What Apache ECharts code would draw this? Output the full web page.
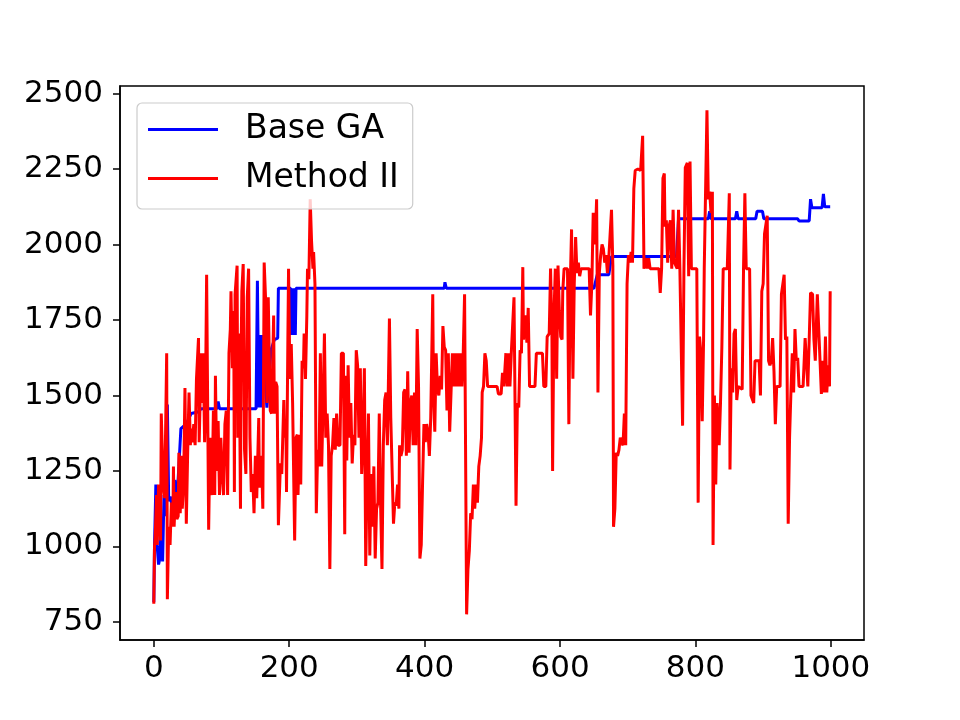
<!DOCTYPE html>
<html>
<head>
<meta charset="utf-8">
<script src="https://cdn.jsdelivr.net/npm/echarts@6/dist/echarts.min.js"></script>
<style>
  html, body { margin: 0; padding: 0; background: #fff; }
  #chart { width: 960px; height: 720px; }
</style>
</head>
<body>
<div id="chart"></div>
<script>
// Tick values
const xTicks = [0, 200, 400, 600, 800, 1000];
const yTicks = [750, 1000, 1250, 1500, 1750, 2000, 2250, 2500];

// Base GA: [generation, fitness]
const baseGa = [
  [0, 815], [1, 1000], [3, 1205], [5, 1000], [7, 940], [9, 960], [11, 1080], [13, 950],
  [15, 1170], [18, 1100], [20, 1470], [22, 1150], [25, 1165], [28, 1100], [31, 1220],
  [34, 1150], [37, 1265], [40, 1390], [45, 1400], [50, 1415], [55, 1440], [65, 1445],
  [70, 1456], [93, 1456], [95, 1480], [97, 1456], [151, 1456], [153, 1880], [155, 1460],
  [157, 1700], [159, 1460], [161, 1700], [163, 1600], [167, 1460], [170, 1550], [173, 1650],
  [178, 1685], [183, 1690], [184, 1855], [202, 1855], [203, 1700], [204, 1855], [205, 1700],
  [206, 1855], [207, 1700], [208, 1855], [209, 1700], [210, 1855], [429, 1855], [430, 1875],
  [432, 1855], [650, 1855], [655, 1900], [672, 1900], [676, 1960], [772, 1960], [775, 2085],
  [819, 2085], [821, 2110], [823, 2085], [859, 2085], [861, 2110], [863, 2085], [889, 2085],
  [891, 2110], [899, 2110], [901, 2085], [951, 2085], [953, 2078], [968, 2078], [970, 2150],
  [972, 2122], [987, 2122], [989, 2168], [991, 2125], [999, 2125]
];

// Method II: [generation, fitness]
const methodII = [
  [0, 810], [1, 1000], [2, 1030], [4, 1170], [5, 1005], [7, 1205], [10, 1020], [11, 1440],
  [14, 1195], [16, 1160], [19, 1640], [20, 825], [22, 1065], [24, 1005], [26, 1145], [28, 1065],
  [29, 1265], [30, 1065], [32, 1180], [34, 1090], [36, 1100], [37, 1310], [39, 1110], [41, 1300],
  [42, 1125], [44, 1205], [46, 1525], [48, 1075], [50, 1310], [52, 1510], [54, 1335], [55, 1390],
  [57, 1345], [59, 1405], [61, 1335], [63, 1555], [66, 1690], [67, 1345], [70, 1640], [71, 1475],
  [73, 1640], [75, 1345], [76, 1425], [78, 1900], [81, 1055], [83, 1360], [86, 1170], [88, 1450],
  [90, 1170], [91, 1565], [93, 1250], [95, 1415], [97, 1170], [99, 1360], [101, 1240], [103, 1170],
  [105, 1405], [107, 1450], [109, 1170], [111, 1640], [113, 1720], [114, 1845], [116, 1590],
  [118, 1780], [119, 1180], [120, 1835], [123, 1930], [124, 1360], [126, 1705], [128, 1125],
  [129, 1650], [130, 1845], [132, 1935], [134, 1320], [136, 1240], [138, 1825], [140, 1920],
  [142, 1360], [144, 1180], [146, 1240], [148, 1110], [150, 1300], [152, 1160], [155, 1425],
  [156, 1195], [159, 1300], [161, 1125], [163, 1940], [165, 1825], [167, 1475], [169, 1825],
  [172, 1450], [174, 1440], [177, 1765], [178, 1440], [180, 1545], [182, 1530], [184, 1070],
  [187, 1275], [189, 1240], [192, 1485], [193, 1360], [195, 1415], [196, 1180], [198, 1685],
  [199, 1920], [201, 1555], [203, 1670], [205, 1475], [208, 1020], [210, 1360], [212, 1370],
  [213, 1170], [215, 1370], [217, 1205], [219, 1615], [221, 1590], [222, 1705], [224, 1555],
  [226, 1765], [227, 1920], [229, 1885], [231, 2150], [233, 2010], [235, 1920], [236, 1975],
  [238, 1870], [240, 1110], [242, 1320], [244, 1265], [246, 1640], [248, 1265], [250, 1475],
  [252, 1705], [254, 1360], [256, 1440], [258, 1335], [260, 925], [262, 1300], [264, 1335],
  [266, 1425], [268, 1320], [270, 1440], [272, 1335], [275, 1335], [277, 1640], [280, 1640],
  [282, 1040], [283, 1565], [285, 1285], [287, 1600], [289, 1360], [291, 1475], [293, 1275],
  [295, 1370], [297, 1335], [299, 1650], [301, 1600], [303, 1360], [305, 1590], [307, 1240],
  [309, 1360], [311, 1590], [313, 935], [315, 1230], [317, 1440], [319, 970], [321, 1240],
  [323, 1065], [325, 1265], [327, 960], [329, 1125], [331, 1145], [333, 1440], [335, 1135],
  [337, 925], [339, 1335], [341, 1485], [343, 1510], [345, 1335], [348, 1755], [350, 1425],
  [354, 1075], [356, 1145], [358, 1135], [360, 1205], [362, 1125], [363, 1335], [365, 1300],
  [367, 1320], [369, 1510], [371, 1520], [373, 1300], [375, 1580], [377, 1310], [379, 1475],
  [381, 1500], [383, 1335], [385, 1510], [387, 1335], [389, 1720], [391, 1530], [393, 960],
  [395, 1005], [397, 1215], [399, 1405], [401, 1345], [403, 1405], [405, 1380], [407, 1300],
  [409, 1425], [412, 1835], [413, 1510], [415, 1380], [417, 1640], [419, 1520], [421, 1500],
  [423, 1565], [425, 1520], [427, 1730], [429, 1660], [431, 1650], [433, 1450], [435, 1640],
  [437, 1380], [439, 1510], [441, 1640], [443, 1530], [445, 1640], [447, 1530], [449, 1640],
  [451, 1530], [453, 1640], [455, 1530], [457, 1640], [459, 1835], [462, 775], [464, 925],
  [466, 985], [468, 1110], [470, 1090], [472, 1205], [474, 1125], [476, 1205], [478, 1145],
  [480, 1265], [482, 1300], [484, 1360], [485, 1510], [487, 1530], [489, 1640], [491, 1615],
  [493, 1530], [507, 1530], [509, 1505], [513, 1505], [515, 1575], [517, 1530], [520, 1640],
  [522, 1530], [524, 1640], [526, 1530], [528, 1640], [530, 1640], [532, 1825], [535, 1135],
  [537, 1475], [539, 1460], [541, 1650], [543, 1640], [545, 1925], [546, 1685], [549, 1765],
  [551, 1675], [553, 1790], [555, 1530], [563, 1530], [565, 1640], [574, 1640], [576, 1530],
  [579, 1530], [581, 1695], [584, 1705], [586, 1920], [588, 1705], [589, 1250], [591, 1765],
  [593, 1920], [595, 1555], [597, 1930], [599, 1780], [601, 1695], [603, 1685], [604, 1845],
  [606, 1920], [611, 1920], [613, 1405], [615, 1860], [617, 2050], [619, 1555], [621, 1870],
  [623, 2025], [625, 1905], [627, 1940], [629, 1895], [631, 1920], [643, 1920], [645, 1765],
  [647, 1870], [649, 2105], [651, 2000], [653, 2080], [654, 2150], [656, 1510], [658, 1905],
  [660, 1965], [662, 2000], [664, 1985], [666, 1940], [668, 1965], [670, 1905], [672, 1955],
  [674, 2035], [676, 2115], [678, 1930], [679, 1065], [681, 1125], [683, 1310], [685, 1300],
  [687, 1320], [689, 1360], [691, 1345], [693, 1335], [695, 1440], [697, 1335], [699, 1870],
  [701, 1965], [703, 1940], [705, 1975], [707, 1940], [709, 2185], [711, 2245], [715, 2250],
  [719, 2245], [722, 2360], [724, 1920], [727, 1955], [729, 1920], [731, 1955], [733, 1920],
  [746, 1920], [748, 1840], [750, 1920], [752, 2220], [754, 2235], [755, 2060], [757, 2080],
  [759, 1940], [761, 2060], [763, 2080], [765, 1920], [767, 2115], [769, 1940], [773, 1920],
  [775, 2115], [777, 1920], [779, 1920], [781, 1400], [783, 1920], [785, 2255], [788, 2270],
  [790, 1895], [792, 2275], [794, 1920], [802, 1920], [804, 1145], [806, 1695], [808, 1640],
  [810, 1415], [812, 1685], [813, 1920], [815, 1920], [817, 2445], [819, 2150], [821, 2175],
  [823, 2105], [825, 2175], [826, 1005], [828, 1500], [830, 1205], [832, 1475], [835, 1335],
  [837, 1475], [839, 1660], [841, 1920], [847, 1920], [850, 2170], [851, 1255], [853, 1590],
  [855, 1510], [857, 1705], [859, 1720], [861, 1485], [863, 1530], [869, 1520], [871, 1920],
  [873, 2170], [875, 1920], [880, 1920], [882, 1500], [886, 1475], [888, 1615], [894, 1615],
  [896, 1500], [898, 1845], [900, 1870], [902, 2035], [904, 2035], [906, 2095], [908, 1615],
  [910, 1600], [912, 1615], [914, 1690], [916, 1580], [918, 1405], [920, 1530], [925, 1530],
  [927, 1835], [929, 1835], [931, 1900], [933, 1685], [935, 1695], [937, 1075], [939, 1360],
  [941, 1510], [943, 1640], [945, 1510], [947, 1720], [949, 1615], [951, 1625], [953, 1530],
  [959, 1530], [962, 1690], [964, 1685], [966, 1530], [968, 1530], [970, 1840], [973, 1835],
  [975, 1685], [977, 1615], [980, 1835], [982, 1835], [984, 1615], [986, 1505], [988, 1615],
  [990, 1510], [992, 1695], [994, 1510], [996, 1600], [998, 1530], [999, 1845]
];

const FONT = 'DejaVu Sans';

// plain tick text, no thousands separator
function plain(v) {
  return String(v);
}

const chart = echarts.init(document.getElementById('chart'), null, { renderer: 'canvas' });

chart.setOption({
  animation: false,
  backgroundColor: '#fff',
  grid: {
    left: 120, right: 96, top: 86, bottom: 80,
    show: true, borderColor: '#000', borderWidth: 1.5, backgroundColor: 'transparent'
  },
  legend: {
    orient: 'vertical',
    left: 137, top: 103,
    padding: [10, 14, 14, 11],
    itemGap: 16,
    itemWidth: 70, itemHeight: 3,
    icon: 'rect',
    backgroundColor: 'rgba(255,255,255,0.8)',
    borderColor: '#cccccc', borderWidth: 1.2, borderRadius: 5,
    textStyle: { fontFamily: FONT, fontSize: 33, color: '#000', padding: [0, 0, 0, 22] },
    data: ['Base GA', 'Method II']
  },
  xAxis: {
    type: 'value',
    min: -49.95, max: 1048.95,
    splitLine: { show: false },
    axisLine: { show: true, onZero: false, lineStyle: { color: '#000', width: 1.5 } },
    axisTick: { show: true, length: 7, lineStyle: { color: '#000', width: 1.5 }, customValues: xTicks },
    axisLabel: { fontFamily: FONT, fontSize: 31, color: '#000', margin: 13, customValues: xTicks, formatter: plain }
  },
  yAxis: {
    type: 'value',
    min: 690, max: 2525,
    splitLine: { show: false },
    axisLine: { show: true, onZero: false, lineStyle: { color: '#000', width: 1.5 } },
    axisTick: { show: true, length: 7, lineStyle: { color: '#000', width: 1.5 }, customValues: yTicks },
    axisLabel: { fontFamily: FONT, fontSize: 31, color: '#000', margin: 17, customValues: yTicks, formatter: plain }
  },
  series: [
    {
      name: 'Base GA', type: 'line', data: baseGa,
      showSymbol: false, symbol: 'none',
      itemStyle: { color: '#0000ff' },
      lineStyle: { color: '#0000ff', width: 3 },
      z: 2
    },
    {
      name: 'Method II', type: 'line', data: methodII,
      showSymbol: false, symbol: 'none',
      itemStyle: { color: '#ff0000' },
      lineStyle: { color: '#ff0000', width: 3 },
      z: 3
    }
  ]
});
</script>
</body>
</html>
